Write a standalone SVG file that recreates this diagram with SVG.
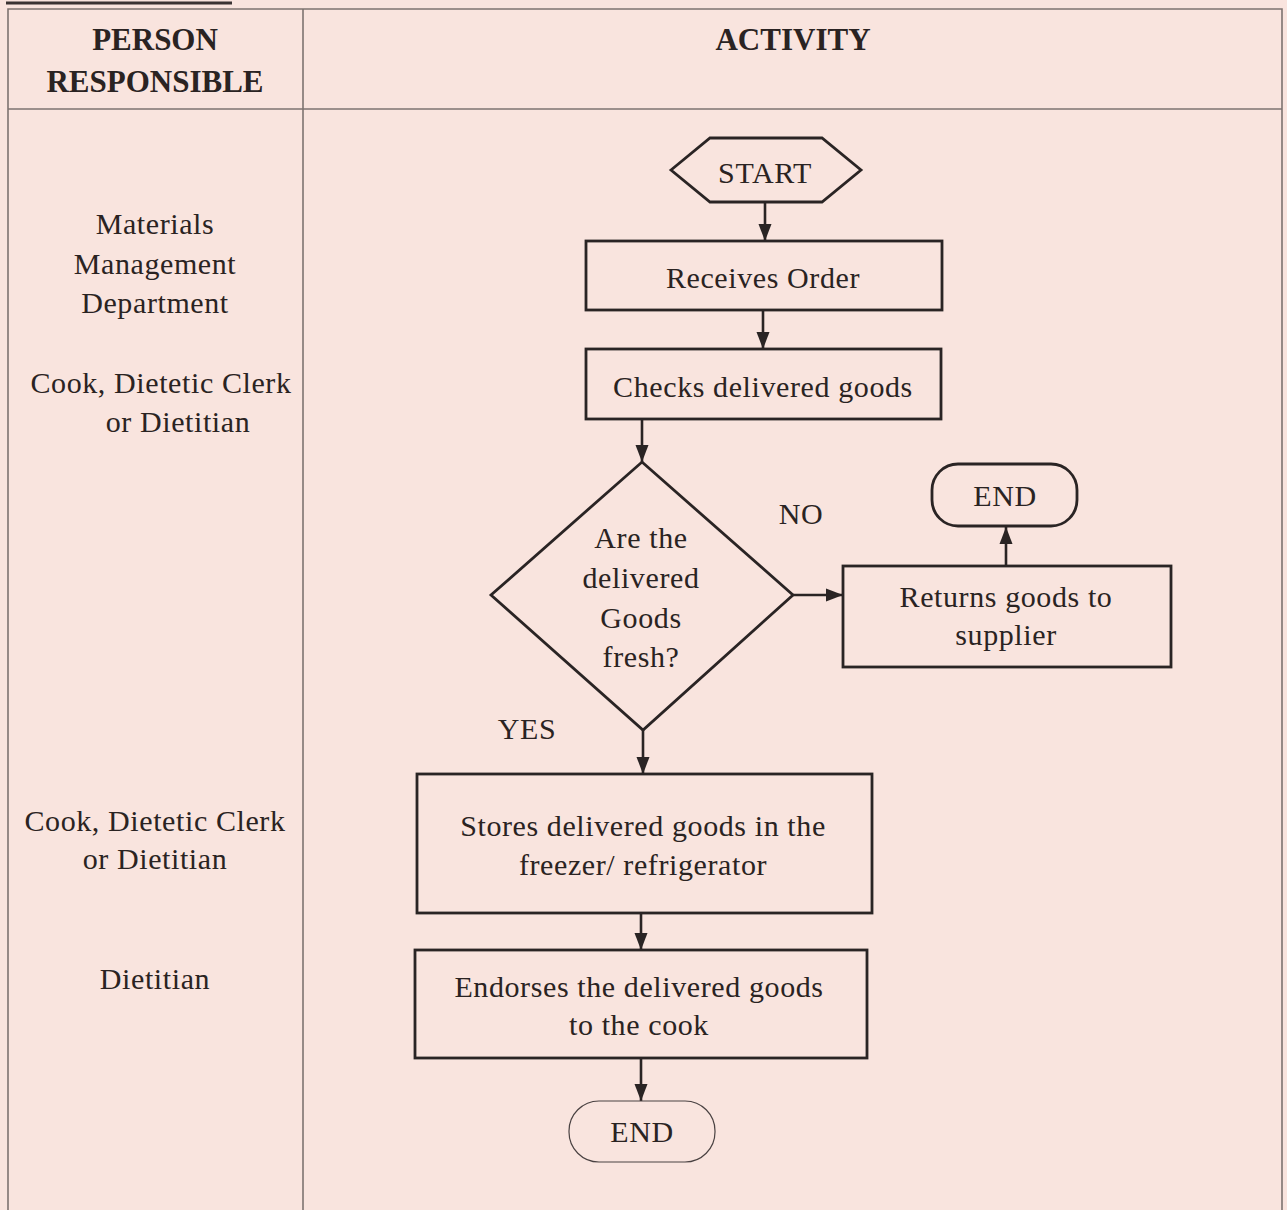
<svg xmlns="http://www.w3.org/2000/svg" width="1287" height="1210" viewBox="0 0 1287 1210">
<style>
  .t { font-family: "Liberation Serif", "Times New Roman", serif; font-size: 30px; fill: #2a2322; text-anchor: middle; letter-spacing: 0.6px; }
  .h { font-family: "Liberation Serif", "Times New Roman", serif; font-size: 31px; font-weight: bold; fill: #2a2322; text-anchor: middle; }
  .grid { stroke: #7d7370; stroke-width: 1.6; fill: none; }
  .shape { fill: none; stroke: #2a2424; stroke-width: 2.8; }
  .thin { fill: none; stroke: #4a4242; stroke-width: 1.2; }
  .conn { stroke: #2a2424; stroke-width: 2.6; fill: none; marker-end: url(#arr); }
</style>
<defs>
  <marker id="arr" markerUnits="userSpaceOnUse" markerWidth="18" markerHeight="18" viewBox="0 0 18 18" refX="17" refY="9" orient="auto">
    <path d="M0,2.5 L17,9 L0,15.5 Z" fill="#2a2424"/>
  </marker>
</defs>
<rect width="1287" height="1210" fill="#f9e4de"/>
<line x1="6" y1="3" x2="232" y2="3" stroke="#3a3333" stroke-width="3"/>
<g id="table">
  <path class="grid" d="M8,1210 V9 H1282 V1210"/>
  <line class="grid" x1="8" y1="109" x2="1282" y2="109"/>
  <line class="grid" x1="303" y1="9" x2="303" y2="1210"/>
  <text class="h" x="155" y="50">PERSON</text>
  <text class="h" x="155" y="92">RESPONSIBLE</text>
  <text class="h" x="793" y="50">ACTIVITY</text>
</g>
<g id="persons">
  <text class="t" x="155" y="234">Materials</text>
  <text class="t" x="155" y="274">Management</text>
  <text class="t" x="155" y="313">Department</text>
  <text class="t" x="161" y="393">Cook, Dietetic Clerk</text>
  <text class="t" x="178" y="432">or Dietitian</text>
  <text class="t" x="155" y="831">Cook, Dietetic Clerk</text>
  <text class="t" x="155" y="869">or Dietitian</text>
  <text class="t" x="155" y="989">Dietitian</text>
</g>
<g id="connectors">
  <line class="conn" x1="765" y1="202" x2="765" y2="241"/>
  <line class="conn" x1="763" y1="310" x2="763" y2="349"/>
  <line class="conn" x1="642" y1="419" x2="642" y2="462"/>
  <line class="conn" x1="793" y1="595" x2="843" y2="595"/>
  <line class="conn" x1="1006" y1="566" x2="1006" y2="527"/>
  <line class="conn" x1="643" y1="730" x2="643" y2="774"/>
  <line class="conn" x1="641" y1="913" x2="641" y2="950"/>
  <line class="conn" x1="641" y1="1058" x2="641" y2="1101"/>
  <text class="t" x="801" y="524">NO</text>
  <text class="t" x="527" y="739">YES</text>
</g>
<g id="start">
  <polygon class="shape" points="671,170 710,138 822,138 861,170 822,202 710,202"/>
  <text class="t" x="765" y="183">START</text>
</g>
<g id="receives">
  <rect class="shape" x="586" y="241" width="356" height="69"/>
  <text class="t" x="763" y="288">Receives Order</text>
</g>
<g id="checks">
  <rect class="shape" x="586" y="349" width="355" height="70"/>
  <text class="t" x="763" y="397">Checks delivered goods</text>
</g>
<g id="decision">
  <polygon class="shape" points="642,462 793,595 643,730 491,595"/>
  <text class="t" x="641" y="548">Are the</text>
  <text class="t" x="641" y="588">delivered</text>
  <text class="t" x="641" y="628">Goods</text>
  <text class="t" x="641" y="667">fresh?</text>
</g>
<g id="returns">
  <rect class="shape" x="843" y="566" width="328" height="101"/>
  <text class="t" x="1006" y="607">Returns goods to</text>
  <text class="t" x="1006" y="645">supplier</text>
</g>
<g id="end1">
  <rect class="shape" x="932" y="464" width="145" height="62" rx="26" ry="26"/>
  <text class="t" x="1005" y="506">END</text>
</g>
<g id="stores">
  <rect class="shape" x="417" y="774" width="455" height="139"/>
  <text class="t" x="643" y="836">Stores delivered goods in the</text>
  <text class="t" x="643" y="875">freezer/ refrigerator</text>
</g>
<g id="endorses">
  <rect class="shape" x="415" y="950" width="452" height="108"/>
  <text class="t" x="639" y="997">Endorses the delivered goods</text>
  <text class="t" x="639" y="1035">to the cook</text>
</g>
<g id="end2">
  <rect class="thin" x="569" y="1101" width="146" height="61" rx="30" ry="30"/>
  <text class="t" x="642" y="1142">END</text>
</g>
</svg>
